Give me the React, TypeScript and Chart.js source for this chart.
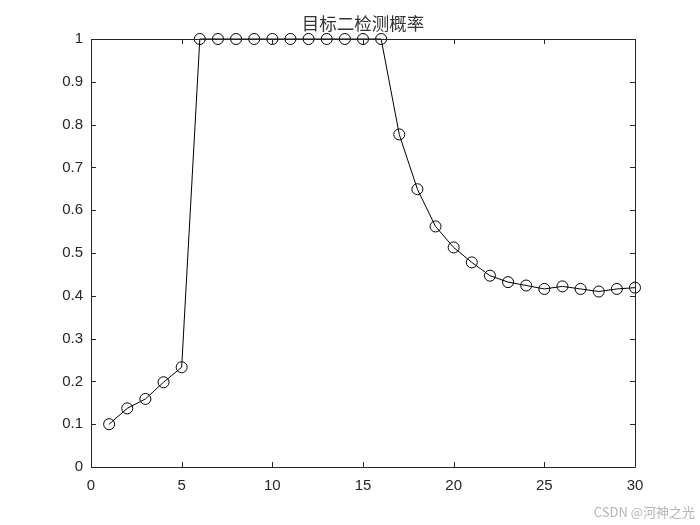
import React, { useEffect, useRef } from "react";
import { Chart, registerables } from "chart.js";

Chart.register(...registerables);

const chartTitle = "目标二检测概率";
const watermark = "CSDN @河神之光";
const stepIndex = [1, 2, 3, 4, 5, 6, 7, 8, 9, 10, 11, 12, 13, 14, 15, 16, 17, 18, 19, 20, 21, 22, 23, 24, 25, 26, 27, 28, 29, 30];
const detectProb = [
  0.1, 0.137, 0.159, 0.198, 0.233,
  1, 1, 1, 1, 1, 1, 1, 1, 1, 1, 1,
  0.777, 0.649, 0.562, 0.513, 0.478, 0.447, 0.432, 0.424, 0.416, 0.422, 0.416, 0.41, 0.416, 0.419,
];
const xMin = 0;
const xMax = 30;
const xStep = 5;
const yMin = 0;
const yMax = 1;
const yStep = 0.1;

const AXIS_COLOR = "#262626";
const TICK_FONT = "Liberation Sans, Arial, sans-serif";

const matlabFrame = {
  id: "matlabFrame",
  afterDatasetsDraw(chart: any) {
    const { ctx, chartArea, scales } = chart;
    const { left, right, top, bottom } = chartArea;
    const tl = 5;
    ctx.save();
    ctx.strokeStyle = AXIS_COLOR;
    ctx.lineWidth = 1;
    ctx.beginPath();
    ctx.rect(Math.round(left) + 0.5, Math.round(top) + 0.5, Math.round(right - left), Math.round(bottom - top));
    ctx.stroke();
    ctx.beginPath();
    for (const t of scales.x.ticks) {
      const px = Math.round(scales.x.getPixelForValue(t.value)) + 0.5;
      ctx.moveTo(px, bottom);
      ctx.lineTo(px, bottom - tl);
      ctx.moveTo(px, top);
      ctx.lineTo(px, top + tl);
    }
    for (const t of scales.y.ticks) {
      const py = Math.round(scales.y.getPixelForValue(t.value)) + 0.5;
      ctx.moveTo(left, py);
      ctx.lineTo(left + tl, py);
      ctx.moveTo(right, py);
      ctx.lineTo(right - tl, py);
    }
    ctx.stroke();
    ctx.restore();
  },
  afterDraw(chart: any) {
    const { ctx, chartArea } = chart;
    ctx.save();
    ctx.fillStyle = "#333333";
    ctx.font = "17.5px 'Noto Sans CJK SC', sans-serif";
    ctx.textAlign = "center";
    ctx.textBaseline = "middle";
    ctx.fillText(chartTitle, (chartArea.left + chartArea.right) / 2, 23);
    ctx.fillStyle = "#b4b4b4";
    ctx.font = "13px 'Noto Sans CJK SC', sans-serif";
    ctx.textAlign = "right";
    ctx.fillText(watermark, 695, 512);
    ctx.restore();
  },
};

const fmt = (v: number | string) => String(Number(Number(v).toFixed(1)));

export default function App() {
  const canvasRef = useRef<HTMLCanvasElement | null>(null);

  useEffect(() => {
    const canvas = canvasRef.current;
    if (!canvas) return;
    const chart = new Chart(canvas, {
      type: "line",
      data: {
        datasets: [
          {
            data: stepIndex.map((x, i) => ({ x, y: detectProb[i] })),
            borderColor: "#000000",
            borderWidth: 1,
            pointStyle: "circle",
            pointRadius: 5.5,
            pointBorderWidth: 1,
            pointBorderColor: "#000000",
            pointBackgroundColor: "rgba(0,0,0,0)",
            tension: 0,
            fill: false,
            clip: false as any,
          },
        ],
      },
      options: {
        responsive: false,
        animation: false,
        events: [],
        layout: { padding: { left: 0, right: 65, top: 39, bottom: 0 } },
        plugins: {
          legend: { display: false },
          title: { display: false },
          tooltip: { enabled: false },
        },
        scales: {
          x: {
            type: "linear",
            min: xMin,
            max: xMax,
            grid: { display: false, drawTicks: false },
            border: { display: false },
            ticks: {
              stepSize: xStep,
              padding: 10,
              color: AXIS_COLOR,
              font: { family: TICK_FONT, size: 15 },
              maxRotation: 0,
              callback: (v: any) => fmt(v),
            },
            afterFit(scale: any) {
              scale.height = 58;
            },
          },
          y: {
            type: "linear",
            min: yMin,
            max: yMax,
            grid: { display: false, drawTicks: false },
            border: { display: false },
            ticks: {
              stepSize: yStep,
              padding: 8,
              color: AXIS_COLOR,
              font: { family: TICK_FONT, size: 15 },
              callback: (v: any) => fmt(v),
            },
            afterFit(scale: any) {
              scale.width = 91;
            },
          },
        },
      },
      plugins: [matlabFrame],
    });
    return () => chart.destroy();
  }, []);

  return (
    <div style={{ position: "fixed", left: 0, top: 0, width: 700, height: 525, background: "#fff" }}>
      <canvas ref={canvasRef} width={700} height={525} style={{ display: "block" }} />
    </div>
  );
}
